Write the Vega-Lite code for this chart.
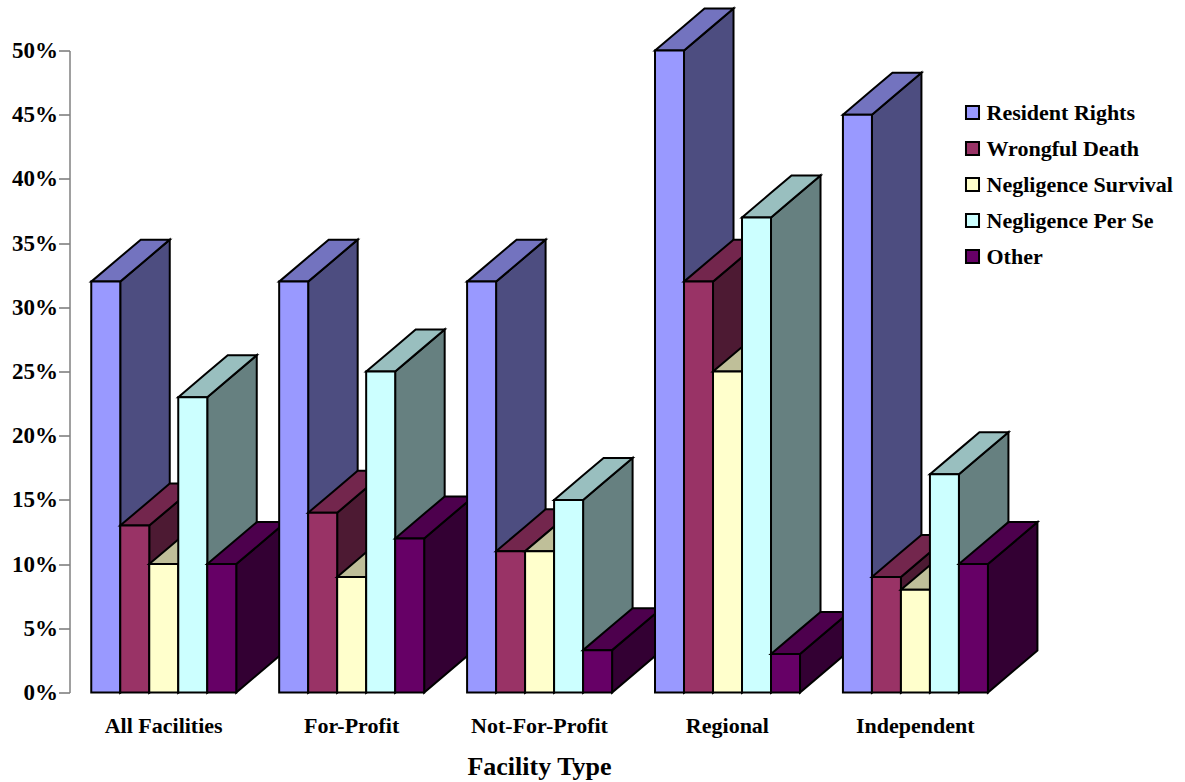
{
  "$schema": "https://vega.github.io/schema/vega-lite/v6.json",
  "width": 1044,
  "height": 642,
  "autosize": {"type": "none"},
  "padding": {"left": 69.5, "top": 50.5, "right": 71.5, "bottom": 89.5},
  "background": "white",
  "config": {"view": {"stroke": null}},
  "data": {
    "values": [
      {"facility": "All Facilities", "type": "Resident Rights", "pct": 32},
      {"facility": "All Facilities", "type": "Wrongful Death", "pct": 13},
      {"facility": "All Facilities", "type": "Negligence Survival", "pct": 10},
      {"facility": "All Facilities", "type": "Negligence Per Se", "pct": 23},
      {"facility": "All Facilities", "type": "Other", "pct": 10},
      {"facility": "For-Profit", "type": "Resident Rights", "pct": 32},
      {"facility": "For-Profit", "type": "Wrongful Death", "pct": 14},
      {"facility": "For-Profit", "type": "Negligence Survival", "pct": 9},
      {"facility": "For-Profit", "type": "Negligence Per Se", "pct": 25},
      {"facility": "For-Profit", "type": "Other", "pct": 12},
      {"facility": "Not-For-Profit", "type": "Resident Rights", "pct": 32},
      {"facility": "Not-For-Profit", "type": "Wrongful Death", "pct": 11},
      {"facility": "Not-For-Profit", "type": "Negligence Survival", "pct": 11},
      {"facility": "Not-For-Profit", "type": "Negligence Per Se", "pct": 15},
      {"facility": "Not-For-Profit", "type": "Other", "pct": 3.3},
      {"facility": "Regional", "type": "Resident Rights", "pct": 50},
      {"facility": "Regional", "type": "Wrongful Death", "pct": 32},
      {"facility": "Regional", "type": "Negligence Survival", "pct": 25},
      {"facility": "Regional", "type": "Negligence Per Se", "pct": 37},
      {"facility": "Regional", "type": "Other", "pct": 3},
      {"facility": "Independent", "type": "Resident Rights", "pct": 45},
      {"facility": "Independent", "type": "Wrongful Death", "pct": 9},
      {"facility": "Independent", "type": "Negligence Survival", "pct": 8},
      {"facility": "Independent", "type": "Negligence Per Se", "pct": 17},
      {"facility": "Independent", "type": "Other", "pct": 10}
    ]
  },
  "transform": [
    {"calculate": "0.75 + 6.48 * indexof(['All Facilities','For-Profit','Not-For-Profit','Regional','Independent'], datum.facility) + indexof(['Resident Rights','Wrongful Death','Negligence Survival','Negligence Per Se','Other'], datum.type)", "as": "slot"},
    {"calculate": "['side','top','front']", "as": "face"},
    {"flatten": ["face"]},
    {"calculate": "[0,1,2,3]", "as": "corner"},
    {"flatten": ["corner"]},
    {"filter": "datum.face === 'top' || datum.corner < 2"},
    {"calculate": "datum.face === 'front' ? datum.type : datum.type + ' ' + datum.face", "as": "shade"},
    {"calculate": "datum.face === 'front' ? datum.slot + datum.corner : datum.face === 'side' ? datum.slot + 1 + datum.corner * 1.707 : datum.slot + [0, 1, 1.707, 2.707][datum.corner]", "as": "px"},
    {"calculate": "datum.face === 'front' ? datum.pct : datum.face === 'side' ? datum.pct + datum.corner * 3.27 : datum.pct + [0, 1.916, 3.27, 3.27][datum.corner]", "as": "top"},
    {"calculate": "datum.face === 'front' ? 0 : datum.face === 'side' ? datum.corner * 3.27 : datum.pct + [0, 0, 1.354, 3.27][datum.corner]", "as": "bottom"}
  ],
  "mark": {"type": "area", "stroke": "black", "strokeWidth": 2, "strokeJoin": "miter", "opacity": 1, "clip": false},
  "encoding": {
    "x": {
      "field": "px",
      "type": "quantitative",
      "scale": {"domain": [0, 36], "nice": false, "zero": false},
      "axis": {
        "title": "Facility Type",
        "titleFont": "Liberation Serif",
        "titleFontWeight": "bold",
        "titleFontSize": 26,
        "titleColor": "black",
        "titleX": 469.5,
        "titleY": 61,
        "titleAnchor": "middle",
        "titleAlign": "center",
        "domain": false,
        "ticks": false,
        "grid": false,
        "values": [3.23, 9.71, 16.19, 22.67, 29.15],
        "labelExpr": "datum.value < 5 ? 'All Facilities' : datum.value < 12 ? 'For-Profit' : datum.value < 18 ? 'Not-For-Profit' : datum.value < 25 ? 'Regional' : 'Independent'",
        "labelFont": "Liberation Serif",
        "labelFontWeight": "bold",
        "labelFontSize": 22,
        "labelColor": "black",
        "labelPadding": 23,
        "labelOverlap": false,
        "labelFlush": false,
        "labelBound": false
      }
    },
    "y": {
      "field": "top",
      "type": "quantitative",
      "stack": null,
      "scale": {"domain": [0, 50], "nice": false},
      "axis": {
        "title": null,
        "domainColor": "#808080",
        "domainWidth": 1.5,
        "tickColor": "#333333",
        "tickSize": 11,
        "tickWidth": 1,
        "grid": false,
        "values": [0, 5, 10, 15, 20, 25, 30, 35, 40, 45, 50],
        "labelExpr": "datum.value + '%'",
        "labelFont": "Liberation Serif",
        "labelFontWeight": "bold",
        "labelFontSize": 23,
        "labelColor": "black",
        "labelPadding": 1,
        "labelBound": false,
        "labelFlush": false,
        "labelOverlap": false
      }
    },
    "y2": {"field": "bottom"},
    "detail": {"field": "facility"},
    "fill": {
      "field": "shade",
      "type": "nominal",
      "scale": {
        "domain": [
          "Resident Rights", "Wrongful Death", "Negligence Survival", "Negligence Per Se", "Other",
          "Resident Rights side", "Wrongful Death side", "Negligence Survival side", "Negligence Per Se side", "Other side",
          "Resident Rights top", "Wrongful Death top", "Negligence Survival top", "Negligence Per Se top", "Other top"
        ],
        "range": [
          "#9999FF", "#993366", "#FFFFCC", "#CCFFFF", "#660066",
          "#4D4D80", "#4D1A33", "#808066", "#668080", "#330033",
          "#7373BF", "#73264D", "#BFBF99", "#99BFBF", "#4D004D"
        ]
      },
      "legend": {
        "title": null,
        "values": ["Resident Rights", "Wrongful Death", "Negligence Survival", "Negligence Per Se", "Other"],
        "orient": "none",
        "legendX": 892,
        "legendY": 51,
        "symbolType": "square",
        "symbolSize": 170,
        "symbolStrokeColor": "black",
        "symbolStrokeWidth": 2,
        "symbolOpacity": 1,
        "labelFont": "Liberation Serif",
        "labelFontWeight": "bold",
        "labelFontSize": 22,
        "labelColor": "black",
        "labelOffset": 3,
        "labelLimit": 300,
        "rowPadding": 14,
        "columns": 1
      }
    }
  }
}
